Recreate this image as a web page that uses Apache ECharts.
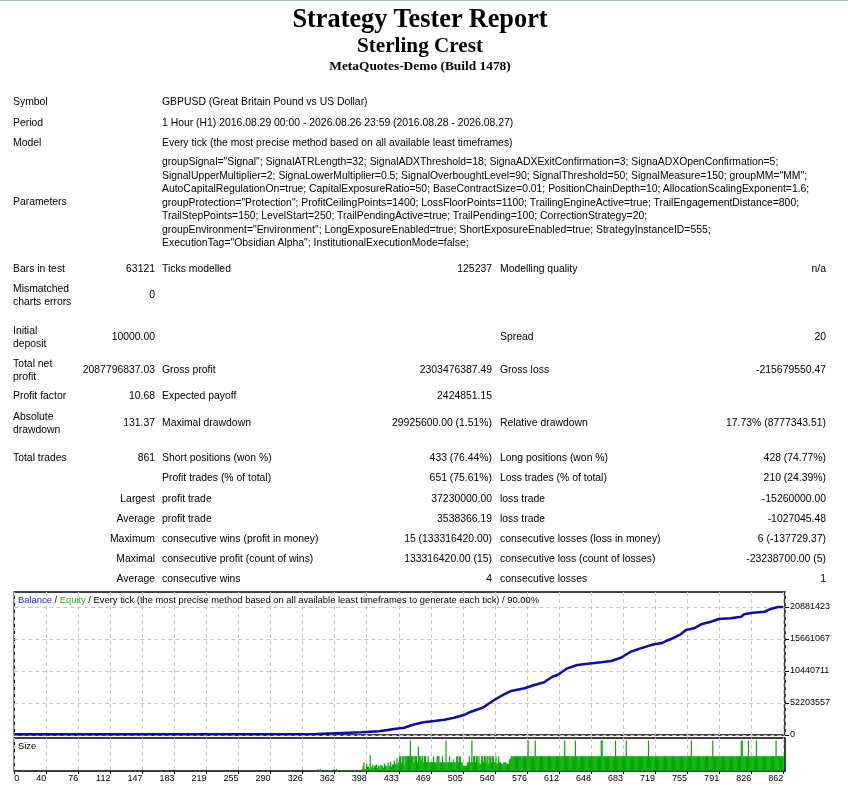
<!DOCTYPE html>
<html><head><meta charset="utf-8">
<script src="https://cdn.jsdelivr.net/npm/echarts@6/dist/echarts.min.js"></script>
<style>
html,body{margin:0;padding:0;background:#fff;width:848px;height:792px;overflow:hidden;position:relative;}
#chart{position:absolute;left:0;top:0;width:848px;height:792px;}
#topline{position:absolute;left:0;top:0;width:848px;height:1px;background:#a3b9c2;}
.t{position:absolute;white-space:nowrap;font-family:"Liberation Sans",Arial,sans-serif;font-size:10.4px;color:#000;}
.h{position:absolute;left:0;width:840px;text-align:center;font-family:"Liberation Serif","Times New Roman",serif;font-weight:bold;color:#000;white-space:nowrap;}
</style></head><body>
<div id="topline"></div>
<div id="chart"></div>
<script>
// ---------------- DATA ----------------
const headerLines = ['Strategy Tester Report', 'Sterling Crest', 'MetaQuotes-Demo (Build 1478)'];
const infoLabels = ['Symbol', 'Period', 'Model', 'Parameters'];
const infoValues = [
  'GBPUSD (Great Britain Pound vs US Dollar)',
  '1 Hour (H1) 2016.08.29 00:00 - 2026.08.26 23:59 (2016.08.28 - 2026.08.27)',
  'Every tick (the most precise method based on all available least timeframes)'
];
const parameterLines = [
  'groupSignal="Signal"; SignalATRLength=32; SignalADXThreshold=18; SignaADXExitConfirmation=3; SignaADXOpenConfirmation=5;',
  'SignalUpperMultiplier=2; SignaLowerMultiplier=0.5; SignalOverboughtLevel=90; SignalThreshold=50; SignalMeasure=150; groupMM="MM";',
  'AutoCapitalRegulationOn=true; CapitalExposureRatio=50; BaseContractSize=0.01; PositionChainDepth=10; AllocationScalingExponent=1.6;',
  'groupProtection="Protection"; ProfitCeilingPoints=1400; LossFloorPoints=1100; TrailingEngineActive=true; TrailEngagementDistance=800;',
  'TrailStepPoints=150; LevelStart=250; TrailPendingActive=true; TrailPending=100; CorrectionStrategy=20;',
  'groupEnvironment="Environment"; LongExposureEnabled=true; ShortExposureEnabled=true; StrategyInstanceID=555;',
  'ExecutionTag="Obsidian Alpha"; InstitutionalExecutionMode=false;'
];
// each row: [label1, value1, label2, value2, label3, value3]
const statRows = [
  ['Bars in test', '63121', 'Ticks modelled', '125237', 'Modelling quality', 'n/a'],
  ['Mismatched\ncharts errors', '0', '', '', '', ''],
  ['Initial\ndeposit', '10000.00', '', '', 'Spread', '20'],
  ['Total net\nprofit', '2087796837.03', 'Gross profit', '2303476387.49', 'Gross loss', '-215679550.47'],
  ['Profit factor', '10.68', 'Expected payoff', '2424851.15', '', ''],
  ['Absolute\ndrawdown', '131.37', 'Maximal drawdown', '29925600.00 (1.51%)', 'Relative drawdown', '17.73% (8777343.51)'],
  ['Total trades', '861', 'Short positions (won %)', '433 (76.44%)', 'Long positions (won %)', '428 (74.77%)'],
  ['', '', 'Profit trades (% of total)', '651 (75.61%)', 'Loss trades (% of total)', '210 (24.39%)'],
  ['', 'Largest', 'profit trade', '37230000.00', 'loss trade', '-15260000.00'],
  ['', 'Average', 'profit trade', '3538366.19', 'loss trade', '-1027045.48'],
  ['', 'Maximum', 'consecutive wins (profit in money)', '15 (133316420.00)', 'consecutive losses (loss in money)', '6 (-137729.37)'],
  ['', 'Maximal', 'consecutive profit (count of wins)', '133316420.00 (15)', 'consecutive loss (count of losses)', '-23238700.00 (5)'],
  ['', 'Average', 'consecutive wins', '4', 'consecutive losses', '1']
];

const chartTitleParts = ['Balance', 'Equity', 'Every tick (the most precise method based on all available least timeframes to generate each tick)', '90.00%'];
const sizeTitle = 'Size';
const xTickLabels = ['0','40','76','112','147','183','219','255','290','326','362','398','433','469','505','540','576','612','648','683','719','755','791','826','862'];
const yTickLabels = ['0','52203557','10440711','15661067','20881423'];

// balance curve (trade number, balance in axis units)
const balanceTrades = [0, 339, 339, 389, 389, 409, 409, 426, 437, 446, 455, 459, 471, 482, 493, 504, 512, 525, 538, 549, 557, 572, 583, 594, 603, 609, 620, 631, 643, 658, 669, 680, 691, 702, 717, 725, 736, 747, 753, 762, 770, 781, 790, 803, 815, 818, 828, 841, 848, 856, 862];
const balanceValues = [120000, 160000, 410000, 440000, 600000, 600000, 770000, 980000, 1190000, 1630000, 1960000, 2070000, 2280000, 2500000, 2820000, 3260000, 3800000, 4450000, 5710000, 6640000, 7180000, 7620000, 8160000, 8600000, 9510000, 9790000, 10880000, 11420000, 11630000, 11860000, 12070000, 12610000, 13590000, 14140000, 14800000, 14960000, 15660000, 16430000, 17130000, 17410000, 18060000, 18480000, 18920000, 19040000, 19300000, 19690000, 19950000, 20110000, 20560000, 20880000, 20880000];

// trade size: [first trade of run, lots] — value holds until the next entry
const sizeSteps = [
  [0,0],[340,0.14],[341,0],[343,0.14],[344,0],[354,0.07],[355,0],[358,0.14],[359,0],[361,0.14],[362,0.07],[363,0],
  [366,0.07],[367,0],[370,0.07],[371,0],[374,0.07],[375,0],[378,0.07],[379,0],[382,0.07],[383,0],[386,0.07],[387,0],
  [390,0.14],[391,0.36],[392,0.57],[393,0.14],[395,0.5],[396,0.3],[398,0.14],[399,1.07],[400,0.29],[402,0.43],[403,0.21],
  [404,0.36],[406,0.43],[407,0.21],[408,0.36],[410,0.14],[411,0.43],[412,0.36],[414,0.21],[415,0.5],[416,0.36],[418,0.14],
  [419,0.57],[420,0.36],[422,0.64],[423,0.29],[424,0.43],[426,0.71],[427,0.5],[429,0.86],[430,0.43],[431,0.57],[432,1.0],
  [434,0.57],[435,1.0],[437,0.43],[438,1.0],[444,2.07],[445,1.0],[448,0.6],[449,1.0],[452,0.57],[453,1.64],[454,1.0],
  [456,0.7],[457,1.0],[459,0.57],[460,1.0],[462,0.6],[464,1.0],[465,0.57],[466,0.59],[470,1.0],[471,0.59],[474,1.0],
  [477,0.59],[480,1.0],[481,0.59],[484,2.07],[485,0.59],[488,1.0],[489,0.59],[492,0.8],[493,0.59],[496,1.0],[498,0.59],
  [499,1.0],[501,0.59],[503,0.36],[508,0.59],[510,1.0],[511,0.59],[513,2.07],[514,0.59],[515,1.0],[517,0.59],[518,1.0],
  [520,0.59],[521,1.0],[522,0.5],[524,1.0],[526,0.59],[527,1.0],[529,0.59],[530,1.0],[532,0.5],[533,1.0],[535,0.59],
  [536,1.0],[538,0.59],[540,1.0],[541,0.5],[543,1.0],[544,0.59],[546,0.5],[549,0.59],[552,0.5],[555,0.8],[557,1.0],
  [576,2.07],[577,1.0],[584,2.07],[585,1.0],[617,2.07],[618,1.0],[629,2.07],[630,1.0],[658,2.07],[660,1.0],[674,2.07],
  [675,1.0],[686,2.07],[687,1.0],[711,2.07],[712,1.0],[759,2.07],[760,1.0],[783,2.07],[784,1.0],[815,2.07],[817,1.0],
  [823,2.07],[824,1.0],[832,2.07],[833,1.0],[854,2.07],[855,1.0],[863,0]
];

// ---------------- REPORT TEXT LAYOUT ----------------
const textShift = 0.8;
function put(text, x, y, align, lh) {
  const d = document.createElement('div');
  d.className = 't';
  const lines = text.split('\n');
  lh = lh || 12.7;
  d.style.lineHeight = lh + 'px';
  d.style.top = (y + textShift - lines.length * lh / 2) + 'px';
  if (align === 'right') { d.style.right = (848 - x) + 'px'; d.style.textAlign = 'right'; }
  else d.style.left = x + 'px';
  lines.forEach((l, i) => { if (i) d.appendChild(document.createElement('br')); d.appendChild(document.createTextNode(l)); });
  document.body.appendChild(d);
}
const headerY = [18.5, 45.5, 66.5], headerSize = [26.3, 21.2, 13.4];
headerLines.forEach((s, i) => {
  const d = document.createElement('div');
  d.className = 'h';
  d.style.fontSize = headerSize[i] + 'px';
  d.style.lineHeight = (headerSize[i] * 1.2) + 'px';
  d.style.top = (headerY[i] - headerSize[i] * 0.6) + 'px';
  d.textContent = s;
  document.body.appendChild(d);
});
const infoY = [102, 123, 143, 201.5];
infoLabels.forEach((s, i) => put(s, 13, infoY[i]));
infoValues.forEach((s, i) => put(s, 162, infoY[i]));
put(parameterLines.join('\n'), 162, 201.5, 'left', 13.5);

const rowY = [268.3, 295, 337, 370, 396, 422.7, 457.7, 478, 498.3, 518.3, 538.3, 558.3, 578.3];
const colX = [13, 155, 162, 492, 500, 826];
const colAlign = ['left', 'right', 'left', 'right', 'left', 'right'];
statRows.forEach((row, r) => {
  row.forEach((s, c) => { if (s) put(s, colX[c], rowY[r], colAlign[c]); });
});

// ---------------- CHART ----------------
const balanceData = balanceTrades.map((t, i) => [t, balanceValues[i]]);
const sizeData = [];
for (let k = 0; k < sizeSteps.length - 1; k++) {
  for (let t = sizeSteps[k][0]; t < sizeSteps[k + 1][0]; t++) {
    if (sizeSteps[k][1] > 0) sizeData.push([t, sizeSteps[k][1]]);
  }
}

const xStep = 862 / 24;
const yStep = 20881423 / 4;
const xTickValues = xTickLabels.map((s, k) => k * xStep);
const yTickValues = yTickLabels.map((s, k) => k * yStep);
const gridLine = { show: true, lineStyle: { color: '#c8c8c8', type: [4, 3], width: 1 } };
const font = '"Liberation Sans", Arial, sans-serif';
const tfs = 9.4;

const chart = echarts.init(document.getElementById('chart'));
chart.setOption({
  animation: false,
  textStyle: { fontFamily: font },
  title: [
    {
      left: 18, top: 595.5, padding: 0,
      text: '{b|' + chartTitleParts[0] + '}{k| / }{g|' + chartTitleParts[1] + '}{k| / ' + chartTitleParts[2] + ' / ' + chartTitleParts[3] + '}',
      textStyle: {
        fontSize: tfs, fontWeight: 'normal', fontFamily: font,
        rich: {
          b: { color: '#1c1cc8', fontSize: tfs, fontFamily: font, lineHeight: 10 },
          g: { color: '#22bb22', fontSize: tfs, fontFamily: font, lineHeight: 10 },
          k: { color: '#000', fontSize: tfs, fontFamily: font, lineHeight: 10 }
        }
      }
    },
    { left: 18, top: 741, padding: 0, text: sizeTitle, textStyle: { fontSize: tfs, fontWeight: 'normal', color: '#000', fontFamily: font, lineHeight: 10 } }
  ],
  grid: [
    { left: 14.3, top: 592, width: 770.7, height: 143, show: true, borderColor: '#000', borderWidth: 1.5 },
    { left: 14.3, top: 738, width: 770.7, height: 33, show: true, borderColor: '#000', borderWidth: 1.5 }
  ],
  xAxis: [
    { gridIndex: 0, type: 'value', min: 0, max: 864, interval: xStep,
      axisLine: { show: false, onZero: false }, axisTick: { show: false }, axisLabel: { show: false }, splitLine: gridLine },
    { gridIndex: 1, type: 'value', position: 'bottom', min: 0, max: 864, interval: xStep,
      axisLine: { show: false, onZero: false },
      axisTick: { show: true, length: 3, lineStyle: { color: '#000' }, customValues: xTickValues },
      axisLabel: {
        show: true, color: '#000', fontSize: 9, margin: 3, align: 'right', alignMinLabel: 'left',
        customValues: xTickValues,
        formatter: v => { const k = Math.round(v / xStep); return Math.abs(v - k * xStep) < 0.01 && xTickLabels[k] !== undefined ? xTickLabels[k] : ''; }
      },
      splitLine: gridLine }
  ],
  yAxis: [
    { gridIndex: 0, type: 'value', position: 'right', min: 0, max: 23330000, interval: yStep,
      axisLine: { show: false, onZero: false },
      axisTick: { show: true, length: 4, lineStyle: { color: '#000' }, customValues: yTickValues },
      axisLabel: {
        color: '#000', fontSize: 9, margin: 5, customValues: yTickValues,
        formatter: v => { const k = Math.round(v / yStep); return Math.abs(v - k * yStep) < 1 && yTickLabels[k] !== undefined ? yTickLabels[k] : ''; }
      },
      splitLine: gridLine },
    { gridIndex: 1, type: 'value', min: 0, max: 2.24, show: false, axisLine: { onZero: false } }
  ],
  series: [
    { type: 'line', xAxisIndex: 0, yAxisIndex: 0, data: balanceData, showSymbol: false, symbol: 'none',
      lineStyle: { color: '#0c0cac', width: 2.5 }, z: 5 },
    { type: 'bar', xAxisIndex: 1, yAxisIndex: 1, data: sizeData, barWidth: 1.2,
      itemStyle: { color: '#00aa00' } }
  ]
});
</script>
</body></html>
